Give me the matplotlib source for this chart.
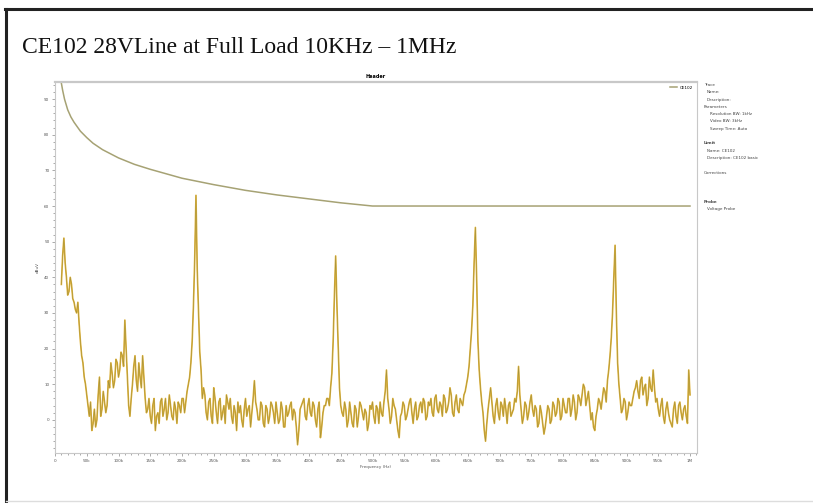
import numpy as np
import matplotlib.pyplot as plt
import matplotlib.patheffects as pe
from matplotlib.lines import Line2D
from matplotlib.ticker import MultipleLocator

# measured trace read off the screen shot (dBuV)
# level_even: 10, 14, 18 ... 998 kHz ; level_odd: 12, 16, 20 ... 1000 kHz
level_even = [
    38, 51, 40, 36, 38, 33, 30, 27, 18, 12, 7, 1, -3, 3, 0, 12, 3, 5, 4, 9,
    13, 11, 16, 14, 18, 28, 12, 1, 10, 18, 8, 12, 18, 6, 3, 1, 4, -3, 2, 5,
    1, 6, 2, 4, 0, 3, 5, 2, 6, 5, 10, 16, 32, 63, 30, 14, 9, 2, 5, 1,
    9, 2, 5, 0, 4, 7, 3, 1, 4, -3, 2, 0, 3, 1, 4, 2, 11, 3, 0, 4,
    -2, 3, 1, 4, -1, 2, 0, 3, -2, 1, 4, 0, 2, -7, 3, 5, 1, 4, 2, 5,
    0, 3, -5, 2, 4, 6, 9, 22, 46, 20, 4, 1, 3, 0, 2, -2, 3, 1, 4, 0,
    2, -1, 3, 1, 4, -1, 2, 5, 14, 3, 1, 4, 0, -5, 2, 4, 1, 5, 2, 3,
    0, 4, 2, 5, 1, 4, 2, 6, 3, 5, 1, 6, 3, 9, 2, 5, 3, 6, 4, 8,
    12, 20, 32, 54, 22, 9, 2, -6, 3, 9, 1, 4, 2, 5, 1, 3, 4, 1, 3, 5,
    15, 3, 1, 4, 2, 7, 1, 3, -1, 2, -4, 1, 3, 0, 4, 2, 5, 1, 4, 2,
    6, 3, 5, 2, 6, 7, 9, 6, 4, 2, -3, 3, 5, 6, 8, 11, 18, 30, 49, 16,
    6, 3, 5, 2, 4, 6, 9, 8, 11, 7, 10, 6, 9, 14, 5, 3, 4, 1, 3, 2,
    -1, 3, 1, 4, 2, 3, 1, 14,
]
level_odd = [
    46, 44, 35, 40, 34, 31, 33, 22, 16, 10, 4, 5, -1,
    -2, 7, 1, 8, 2, 11, 16, 9, 17, 12, 19, 15,
    20, 4, 6, 15, 11, 16, 9, 12, 2, 6, -1, 6,
    1, -1, 6, 3, 0, 7, 1, 5, -1, 4, 6, 2,
    8, 12, 22, 45, 42, 19, 6, 7, 0, 6, -1, 6,
    -1, 6, 2, -1, 5, 6, -1, 2, 5, 4, -2, 6,
    3, -2, 6, 5, 0, 5, -1, 4, -1, 5, 2, 5,
    -1, 5, -2, 4, 2, 5, 3, -2, -3, 4, 6, 0,
    6, 1, 4, -2, 5, -2, 4, 6, 4, 13, 35, 32,
    9, 2, 5, -2, 5, -1, 4, -2, 5, 2, 3, -3,
    4, 5, -1, 3, 5, 1, 8, 6, -1, 6, 3, -3,
    1, 5, 0, 3, 6, -1, 5, 1, 5, 6, 0, 5,
    6, 1, 7, 2, 4, 7, 2, 5, 7, 1, 7, 2,
    5, 7, 10, 15, 25, 44, 40, 14, 5, -3, -1, 6,
    5, -1, 6, 0, 4, 6, -1, 5, 2, 6, 8, 7,
    -1, 5, 0, 5, 3, 4, -2, 4, -1, -2, 4, -1,
    5, 1, 6, 0, 6, 2, 6, 1, 7, 0, 7, 4,
    10, 4, 8, 0, -2, 1, 6, 3, 9, 5, 14, 23,
    40, 30, 10, 2, 6, 0, 5, 4, 8, 11, 6, 12,
    9, 4, 12, 8, 9, 6, 1, 6, -1, 5, 0, -2,
    5, -1, 5, 0, 4, -1, 7,
]

# CE102 limit line (kHz, dBuV)
limit_khz = [10, 12, 15, 20, 25, 30, 40, 50, 60, 75, 100, 125, 150, 200,
             250, 300, 350, 400, 450, 500, 1000]
limit_dbuv = [94.5, 92.5, 90.0, 87.0, 85.0, 83.5, 81.0, 79.2, 77.6, 75.8,
              73.5, 71.7, 70.3, 67.8, 66.0, 64.4, 63.1, 62.0, 60.9, 60.0, 60.0]

xtick_vals = list(range(0, 1001, 50))
xtick_labels = ['0'] + [f'{v}k' for v in range(50, 1000, 50)] + ['1M']
ytick_vals = list(range(0, 91, 10))

info_lines = [
    ('Trace', 0, False), ('Name:', 1, False), ('Description:', 1, False),
    ('Parameters', 0, False), ('Resolution BW: 1kHz', 2, False),
    ('Video BW: 3kHz', 2, False), ('Sweep Time: Auto', 2, False),
    (None, 0, False),
    ('Limit', 0, True), ('Name: CE102', 1, False),
    ('Description: CE102 basic', 1, False), (None, 0, False),
    ('Corrections', 0, False), (None, 0, False), (None, 0, False),
    (None, 0, False),
    ('Probe', 0, True), ('Voltage Probe', 1, False),
]

freq_khz = np.arange(10, 1001, 2)
level = np.empty(len(freq_khz))
level[0::2] = level_even
level[1::2] = level_odd

fig = plt.figure(figsize=(8.13, 5.03), dpi=100)
W, H = 813, 503

# slide frame
fig.add_artist(Line2D([5 / W, 1], [1 - 9 / H, 1 - 9 / H], color='#222222', lw=2.2))
fig.add_artist(Line2D([6 / W, 6 / W], [0, 1 - 9 / H], color='#222222', lw=2.2))
fig.add_artist(Line2D([6 / W, 1], [1 - 501 / H, 1 - 501 / H], color='#dddddd', lw=1))

fig.text(22 / W, 1 - 53 / H, 'CE102 28VLine at Full Load 10KHz \u2013 1MHz',
         family='Liberation Serif', fontsize=17, color='#111111', va='baseline')

ax = fig.add_axes([55 / W, 1 - 453 / H, (697 - 55) / W, (453 - 82) / H])
ax.plot(freq_khz, level, color='#A8943A', lw=0.45,
        path_effects=[pe.Stroke(linewidth=1.2, foreground='#E2B43C'), pe.Normal()])
ax.plot(limit_khz, limit_dbuv, color='#A6A274', lw=1.1, label='CE102')

ax.set_xlim(0, 1011)
ax.set_ylim(-9.3, 94.8)
ax.set_xticks(xtick_vals)
ax.set_xticklabels(xtick_labels)
ax.set_yticks(ytick_vals)
ax.xaxis.set_minor_locator(MultipleLocator(10))
ax.yaxis.set_minor_locator(MultipleLocator(2))
ax.tick_params(which='both', labelsize=3, colors='#888888', length=2, width=0.5,
               labelcolor='#555555', pad=2)
ax.tick_params(which='minor', length=1.2)
for s in ax.spines.values():
    s.set_color('#c8c8c8')
    s.set_linewidth(0.8)
ax.spines['top'].set_linewidth(1.6)

ax.set_xlabel('Frequency (Hz)', fontsize=3, color='#555555', labelpad=2)
ax.set_ylabel('dBuV', fontsize=3, color='#555555', labelpad=3)
ax.set_title('Header', fontsize=3.5, fontweight='bold', pad=3)
ax.legend(loc='upper right', fontsize=3, frameon=False, handlelength=1.5)

y = 85
for txt, indent, bold in info_lines:
    if txt is not None:
        fig.text((704 + indent * 3) / W, 1 - y / H, txt, fontsize=3,
                 color='#444444', fontweight='bold' if bold else 'normal', va='center')
    y += 7.3

fig.savefig('out.png', dpi=100)
